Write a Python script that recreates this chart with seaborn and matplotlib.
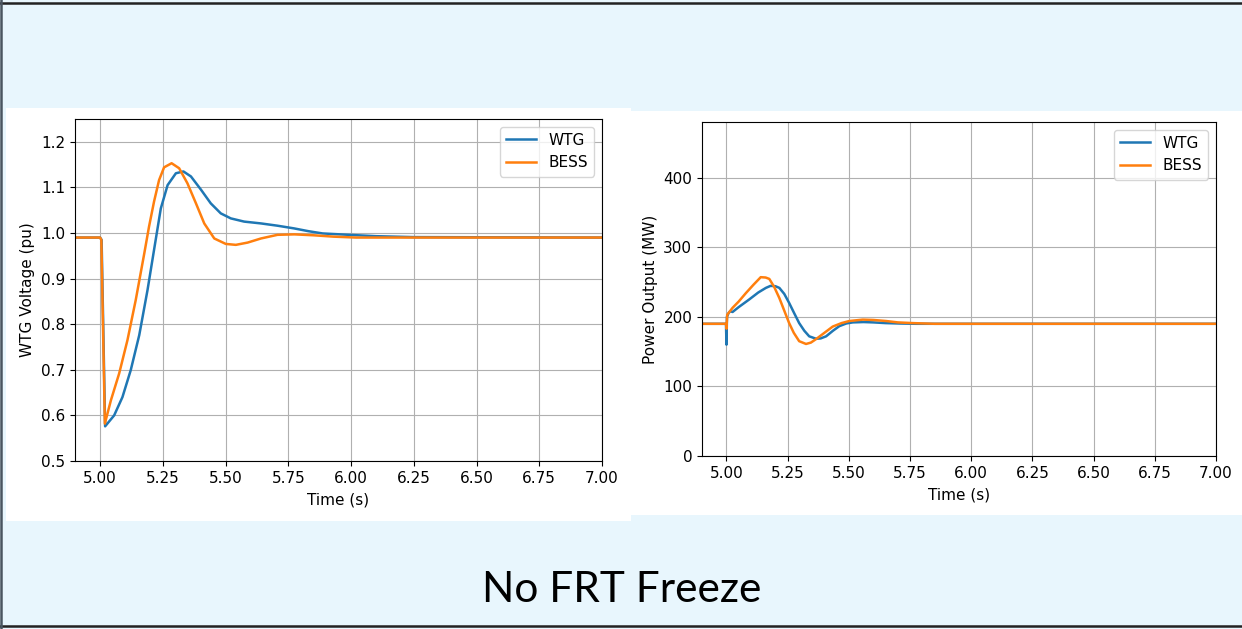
import matplotlib
matplotlib.use("Agg")
import matplotlib.pyplot as plt
from matplotlib.patches import Rectangle
from matplotlib.lines import Line2D
import seaborn as sns
import pandas as pd

# ---------------- data ----------------
volt_wtg_t = [4.90, 5.000, 5.006, 5.020, 5.056, 5.089, 5.122, 5.156, 5.189, 5.215, 5.242,
              5.269, 5.302, 5.332, 5.362, 5.402, 5.441, 5.481, 5.521, 5.574, 5.641, 5.707,
              5.774, 5.83, 5.887, 5.99, 6.10, 6.25, 7.00]
volt_wtg_v = [0.990, 0.990, 0.985, 0.576, 0.600, 0.640, 0.699, 0.776, 0.875, 0.963, 1.054,
              1.105, 1.131, 1.135, 1.124, 1.095, 1.065, 1.043, 1.032, 1.025, 1.021, 1.016,
              1.010, 1.004, 0.999, 0.996, 0.993, 0.991, 0.990]

volt_bess_t = [4.90, 5.000, 5.005, 5.019, 5.043, 5.076, 5.109, 5.142, 5.176, 5.195, 5.215,
               5.235, 5.255, 5.285, 5.315, 5.348, 5.382, 5.415, 5.455, 5.501, 5.541, 5.588,
               5.641, 5.707, 5.774, 5.85, 5.93, 6.02, 7.00]
volt_bess_v = [0.990, 0.990, 0.985, 0.582, 0.633, 0.692, 0.765, 0.853, 0.955, 1.014, 1.069,
               1.116, 1.144, 1.153, 1.142, 1.109, 1.065, 1.021, 0.988, 0.976, 0.974, 0.979,
               0.988, 0.996, 0.997, 0.995, 0.992, 0.990, 0.990]

pow_wtg_t = [4.90, 4.998, 5.000, 5.002, 5.008, 5.015, 5.025, 5.05, 5.093, 5.13, 5.161, 5.18,
             5.20, 5.216, 5.236, 5.256, 5.277, 5.297, 5.318, 5.338, 5.366, 5.385, 5.407, 5.435,
             5.461, 5.49, 5.516, 5.56, 5.60, 5.65, 5.707, 5.775, 7.00]
pow_wtg_p = [190, 190, 160, 200, 205, 208, 207, 214, 225, 235, 241.6, 244.5,
             244, 241.6, 233, 220, 205, 191, 180, 172, 168.5, 169, 172, 180,
             186.6, 190.5, 192, 192.5, 192, 191, 190.4, 190, 190]

pow_bess_t = [4.90, 4.998, 5.000, 5.003, 5.025, 5.05, 5.079, 5.11, 5.14, 5.16, 5.175, 5.195,
              5.216, 5.236, 5.256, 5.275, 5.297, 5.325, 5.345, 5.366, 5.40, 5.434, 5.47, 5.502,
              5.557, 5.60, 5.652, 5.70, 5.761, 5.85, 7.00]
pow_bess_p = [190, 190, 183, 203, 213, 222, 234, 246, 257, 256.5, 254.5, 243,
              227, 209, 191, 177, 165, 161, 163, 168, 177, 186, 191, 194,
              196, 195.5, 194, 192, 191, 190, 190]

series_names = ["WTG", "BESS"]
title_text = "No FRT Freeze"

# ---------------- figure ----------------
plt.rcParams["font.family"] = ["DejaVu Sans"]
plt.rcParams["font.size"] = 11
bg = "#E8F6FD"
fig = plt.figure(figsize=(12.42, 6.29), dpi=100, facecolor=bg)
W, H = 1242, 629

def fr(x0, y0, x1, y1):
    return (x0 / W, 1 - y1 / H, (x1 - x0) / W, (y1 - y0) / H)

for (x0, y0, x1, y1) in [(6, 108, 631, 521), (631, 111, 1242, 515)]:
    l, b, w, h = fr(x0, y0, x1, y1)
    fig.patches.append(Rectangle((l, b), w, h, transform=fig.transFigure,
                                 facecolor="white", edgecolor="none", zorder=-5))

# border lines
fig.add_artist(Line2D([0, 1], [1 - 2.5 / H, 1 - 2.5 / H], transform=fig.transFigure, color="#222222", lw=1.8, zorder=-4))
fig.add_artist(Line2D([0, 1], [1 - 626 / H, 1 - 626 / H], transform=fig.transFigure, color="#222222", lw=1.8, zorder=-4))
fig.add_artist(Line2D([0.8 / W, 0.8 / W], [0, 1], transform=fig.transFigure, color="#4a5560", lw=1.8, zorder=-4))

colors = ["#1f77b4", "#ff7f0e"]
xt = [5.0, 5.25, 5.5, 5.75, 6.0, 6.25, 6.5, 6.75, 7.0]

ax1 = fig.add_axes(fr(75, 119, 602, 461))
sns.lineplot(x=volt_wtg_t, y=volt_wtg_v, ax=ax1, color=colors[0], label=series_names[0], linewidth=1.8)
sns.lineplot(x=volt_bess_t, y=volt_bess_v, ax=ax1, color=colors[1], label=series_names[1], linewidth=1.8)
ax1.set_xlim(4.9, 7.0)
ax1.set_ylim(0.5, 1.25)
ax1.set_yticks([0.5, 0.6, 0.7, 0.8, 0.9, 1.0, 1.1, 1.2])
ax1.set_xticks(xt)
ax1.set_xticklabels([f"{v:.2f}" for v in xt])
ax1.set_yticklabels([f"{v:.1f}" for v in ax1.get_yticks()])
ax1.set_xlabel("Time (s)", labelpad=5)
ax1.set_ylabel("WTG Voltage (pu)")
ax1.grid(True, color="#b0b0b0", linewidth=0.8)
ax1.legend(loc="upper right")

ax2 = fig.add_axes(fr(702, 122, 1216, 456))
sns.lineplot(x=pow_wtg_t, y=pow_wtg_p, ax=ax2, color=colors[0], label=series_names[0], linewidth=1.8)
sns.lineplot(x=pow_bess_t, y=pow_bess_p, ax=ax2, color=colors[1], label=series_names[1], linewidth=1.8)
ax2.set_xlim(4.9, 7.0)
ax2.set_ylim(0, 480)
ax2.set_yticks([0, 100, 200, 300, 400])
ax2.set_xticks(xt)
ax2.set_xticklabels([f"{v:.2f}" for v in xt])
ax2.set_xlabel("Time (s)", labelpad=5)
ax2.set_ylabel("Power Output (MW)")
ax2.grid(True, color="#b0b0b0", linewidth=0.8)
ax2.legend(loc="upper right")

for ax in (ax1, ax2):
    ax.set_facecolor("white")
    ax.tick_params(labelsize=11)

fig.text(621.5 / W, 1 - 590 / H, title_text, ha="center", va="center",
         fontsize=30.5, family=["Lato", "DejaVu Sans"], color="black")

fig.savefig("out.png", dpi=100, facecolor=bg)
